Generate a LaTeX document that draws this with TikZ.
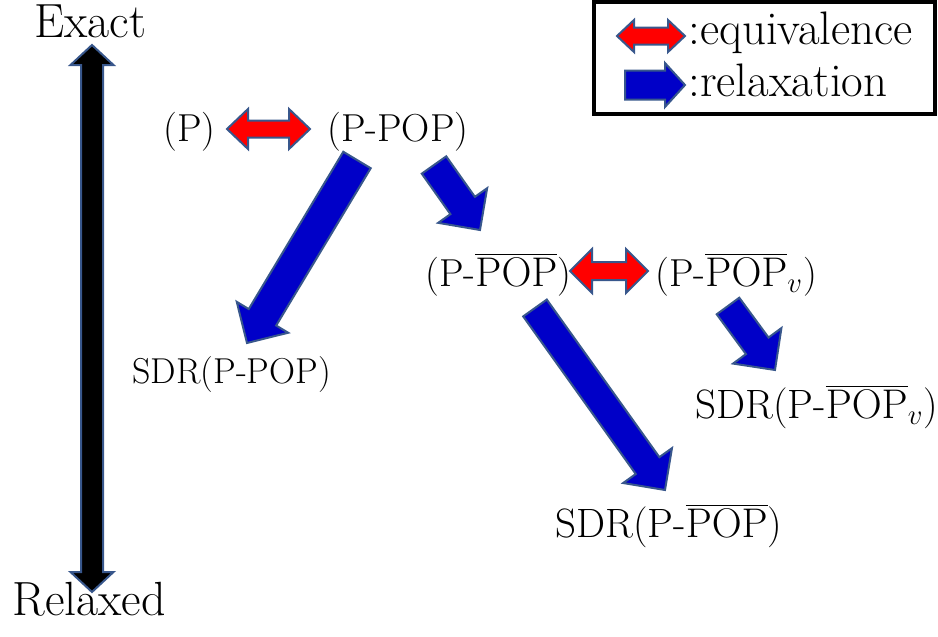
\documentclass[tikz,border=0pt]{standalone}
\usetikzlibrary{calc}
\definecolor{relaxblue}{RGB}{0,0,200}
\definecolor{edgeblue}{RGB}{56,87,140}
\definecolor{eqred}{RGB}{255,0,0}
\tikzset{
  lbl/.style={inner sep=0pt, anchor=base west, font=\fontsize{19.5}{23}\selectfont},
  sdrlbl/.style={lbl, font=\fontsize{20.5}{24}\selectfont},
  smalllbl/.style={lbl, font=\fontsize{18}{21}\selectfont},
  biglbl/.style={inner sep=0pt, anchor=base west, font=\fontsize{24}{28}\selectfont},
  keylbl/.style={inner sep=0pt, anchor=base west, font=\fontsize{23.5}{27}\selectfont},
  relaxarrow/.style={fill=relaxblue, draw=edgeblue, line width=1pt, line join=miter},
  equivarrow/.style={fill=eqred, draw=edgeblue, line width=1pt, line join=miter},
  scalearrow/.style={fill=black, draw=edgeblue, line width=1pt, line join=miter}
}
% #1 style, #2 tail, #3 tip, #4 half shaft, #5 half head, #6 head length
\newcommand{\blockarrow}[6]{%
  \coordinate (#3-base) at ($(#3)!#6!(#2)$);
  \filldraw[#1] ($(#2)!#4!90:(#3)$) -- ($(#3-base)!#4!90:(#3)$) -- ($(#3-base)!#5!90:(#3)$)
    -- (#3) -- ($(#3-base)!#5!-90:(#3)$) -- ($(#3-base)!#4!-90:(#3)$) -- ($(#2)!#4!-90:(#3)$) -- cycle;
}
\newcommand{\twinarrow}[6]{%
  \coordinate (#2-base) at ($(#2)!#6!(#3)$);
  \coordinate (#3-base) at ($(#3)!#6!(#2)$);
  \filldraw[#1] (#2) -- ($(#2-base)!#5!90:(#3)$) -- ($(#2-base)!#4!90:(#3)$) -- ($(#3-base)!#4!90:(#3)$)
    -- ($(#3-base)!#5!90:(#3)$) -- (#3) -- ($(#3-base)!#5!-90:(#3)$) -- ($(#3-base)!#4!-90:(#3)$)
    -- ($(#2-base)!#4!-90:(#3)$) -- ($(#2-base)!#5!-90:(#3)$) -- cycle;
}
\begin{document}
\begin{tikzpicture}[x=0.5pt, y=-0.5pt]
\useasboundingbox (0,0) rectangle (938,637);
\node[biglbl] (exact) at (34,37) {Exact};
\node[biglbl] (relaxed) at (12,615) {Relaxed};
\coordinate (top) at (92,45);
\coordinate (bottom) at (92,592);
\twinarrow{scalearrow}{bottom}{top}{5.5pt}{10.75pt}{10pt}
\draw[line width=2pt] (594,2) rectangle (935,114);
\coordinate (keyeqL) at (617,36);
\coordinate (keyeqR) at (685,36);
\twinarrow{equivarrow}{keyeqL}{keyeqR}{4.25pt}{8pt}{8.5pt}
\node[keylbl] (keyeq) at (688,45) {:equivalence};
\coordinate (keyrelL) at (625,85);
\coordinate (keyrelR) at (685,85);
\blockarrow{relaxarrow}{keyrelL}{keyrelR}{7.25pt}{11pt}{10pt}
\node[keylbl] (keyrel) at (688,96) {:relaxation};
\node[lbl] (P) at (163,141) {(P)};
\node[lbl] (PPOP) at (327,141) {(P-POP)};
\node[lbl] (PPOPb) at (425,286) {(P-$\overline{\mathrm{POP}}$)};
\node[lbl] (PPOPbv) at (655,286) {(P-$\overline{\mathrm{POP}}_v$)};
\node[smalllbl] (SDR) at (132,383) {SDR(P-POP)};
\node[sdrlbl] (SDRb) at (555,537) {SDR(P-$\overline{\mathrm{POP}}$)};
\node[sdrlbl] (SDRbv) at (695,418) {SDR(P-$\overline{\mathrm{POP}}_v$)};
\coordinate (eqaL) at (227,129);
\coordinate (eqaR) at (310,129);
\twinarrow{equivarrow}{eqaL}{eqaR}{4.25pt}{10pt}{10.5pt}
\coordinate (eqbL) at (570,271);
\coordinate (eqbR) at (648,271);
\twinarrow{equivarrow}{eqbL}{eqbR}{4.5pt}{11pt}{11pt}
\coordinate (ra1) at (357,160);
\coordinate (ra2) at (247,343);
\blockarrow{relaxarrow}{ra1}{ra2}{8pt}{15pt}{15pt}
\coordinate (rb1) at (434,165);
\coordinate (rb2) at (480,230);
\blockarrow{relaxarrow}{rb1}{rb2}{7.5pt}{15pt}{15pt}
\coordinate (rc1) at (535,308);
\coordinate (rc2) at (665,490);
\blockarrow{relaxarrow}{rc1}{rc2}{7.25pt}{15pt}{15pt}
\coordinate (rd1) at (728,306);
\coordinate (rd2) at (775,370);
\blockarrow{relaxarrow}{rd1}{rd2}{7pt}{15pt}{15pt}
\end{tikzpicture}
\end{document}
